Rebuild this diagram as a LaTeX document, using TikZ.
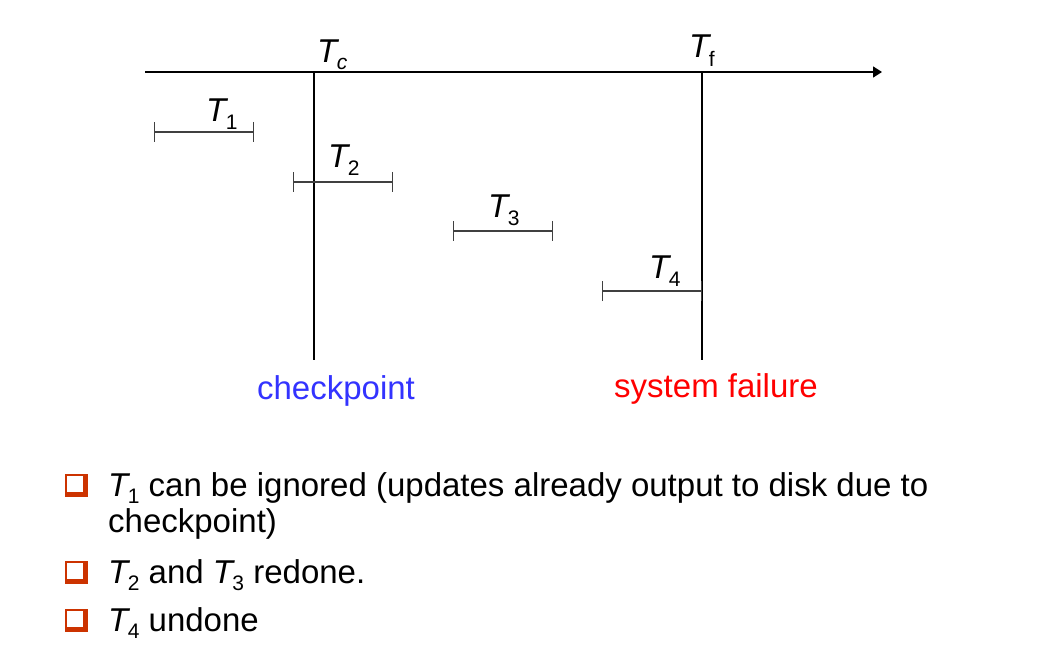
\documentclass[tikz,border=0pt]{standalone}
\usepackage{fontspec}
\setmainfont{Liberation Sans}
\usetikzlibrary{arrows.meta}
\definecolor{cpblue}{RGB}{51,51,255}
\definecolor{sfred}{RGB}{255,0,0}
\definecolor{bulletred}{RGB}{204,51,0}
\definecolor{bargray}{RGB}{64,64,64}
\newcommand{\Tlab}[2][-8pt]{\textit{T}\kern-2.5pt\raisebox{#1}{\fontsize{21}{21}\selectfont #2}}
\begin{document}
\begin{tikzpicture}[x=1pt,y=-1pt,
  lab/.style={font=\fontsize{33}{33}\selectfont, inner sep=0pt, anchor=base west},
  bartx/.style={draw=bargray, line width=1.3pt, {Bar[width=20pt]}-{Bar[width=20pt]}},
  vline/.style={draw=black, line width=1.2pt},
  axis/.style={draw=black, line width=1.6pt, -{Triangle[length=9pt,width=11pt]}},
  bulletbox/.style={fill=bulletred}]
\useasboundingbox (0,0) rectangle (1051,660);
% axis
\coordinate (ax0) at (145,72);
\coordinate (ax1) at (882,72);
\draw[axis] (ax0) -- (ax1);
% checkpoint and failure lines
\coordinate (tctop) at (314,72);
\coordinate (tcbot) at (314,360);
\coordinate (tftop) at (702,72);
\coordinate (tfbot) at (702,360);
\draw[vline] (tctop) -- (tcbot);
\draw[vline] (tftop) -- (tfbot);
% labels on axis
\node[lab] (tc) at (317,63) {\Tlab[-7pt]{\textit{c}}};
\node[lab] (tf) at (689,58) {\Tlab[-9pt]{f}};
% transactions
\coordinate (b1l) at (154,132); \coordinate (b1r) at (254,132);
\coordinate (b2l) at (293,182); \coordinate (b2r) at (393,182);
\coordinate (b3l) at (453,231); \coordinate (b3r) at (553,231);
\coordinate (b4l) at (602,291); \coordinate (b4r) at (702,291);
\draw[bartx] (b1l) -- (b1r);
\draw[bartx] (b2l) -- (b2r);
\draw[bartx] (b3l) -- (b3r);
\draw[bartx] (b4l) -- (b4r);
\node[lab] (t1) at (206,122) {\Tlab{1}};
\node[lab] (t2) at (328,168) {\Tlab{2}};
\node[lab] (t3) at (488,218) {\Tlab{3}};
\node[lab] (t4) at (649,278) {\Tlab{4}};
% captions
\node[lab, anchor=base, text=cpblue] (cp) at (336,399) {checkpoint};
\node[lab, anchor=base, text=sfred] (sf) at (716,397) {system failure};
% bullets
\foreach \yb in {497,584,632}{
  \fill[bulletbox] (65,\yb-23) rectangle (88,\yb);
  \fill[white] (67,\yb-21) rectangle (83,\yb-5);
}
\node[lab] (l1) at (108,496)
  {\Tlab[-7pt]{1} can be ignored (updates already output to disk due to};
\node[lab] (l1b) at (108,532) {checkpoint)};
\node[lab] (l2) at (108,583) {\Tlab[-7pt]{2} and \Tlab[-7pt]{3} redone.};
\node[lab] (l3) at (108,631) {\Tlab[-7pt]{4} undone};
\end{tikzpicture}
\end{document}
